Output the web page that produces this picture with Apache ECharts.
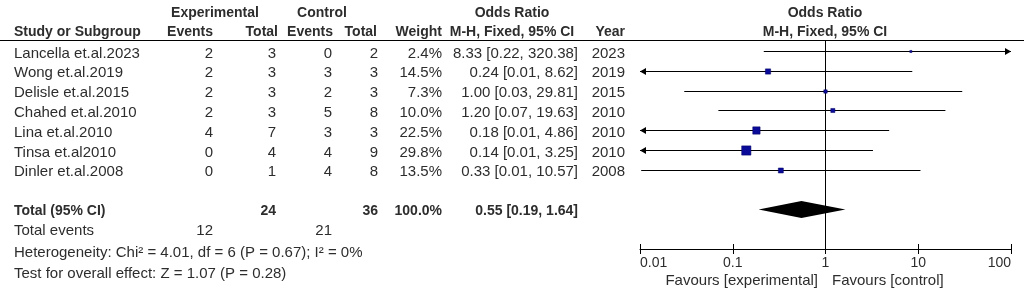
<!DOCTYPE html>
<html><head><meta charset="utf-8">
<script src="https://cdn.jsdelivr.net/npm/echarts@6/dist/echarts.min.js"></script>
<style>html,body{margin:0;padding:0;background:#fff}#c{width:1026px;height:291px}</style>
</head><body><div id="c"></div>
<script>
// ---------- data ----------
const studies    = ['Lancella et.al.2023','Wong et.al.2019','Delisle et.al.2015','Chahed et.al.2010','Lina et.al.2010','Tinsa et.al2010','Dinler et.al.2008'];
const expEvents  = [2, 2, 2, 2, 4, 0, 0];
const expTotal   = [3, 3, 3, 3, 7, 4, 1];
const ctrlEvents = [0, 3, 2, 5, 3, 4, 4];
const ctrlTotal  = [2, 3, 3, 8, 3, 9, 8];
const weights    = [2.4, 14.5, 7.3, 10.0, 22.5, 29.8, 13.5];
const orEst      = [8.33, 0.24, 1.00, 1.20, 0.18, 0.14, 0.33];
const ciLow      = [0.216, 0.0067, 0.03, 0.07, 0.0067, 0.006, 0.0103];
const ciHigh     = [320.38, 8.62, 29.81, 19.63, 4.86, 3.25, 10.57];
const years      = [2023, 2019, 2015, 2010, 2010, 2010, 2008];
const pooled     = [0.55, 0.19, 1.64];
const totalExpN = 24, totalCtrlN = 36, totalWeight = 100.0;
const totalExpEvents = 12, totalCtrlEvents = 21;
const heterogeneityText = 'Heterogeneity: Chi\u00B2 = 4.01, df = 6 (P = 0.67); I\u00B2 = 0%';
const overallText = 'Test for overall effect: Z = 1.07 (P = 0.28)';
const tickLabels = ['0.01', '0.1', '1', '10', '100'];
const favourLabels = ['Favours [experimental]', 'Favours [control]'];

// ---------- layout / style ----------
const FONT = '"Liberation Sans", Arial, sans-serif';
const TXT = '#2d2d2d';
const REG = 15, BOLD = 14;
const AX_MIN = 0.01, AX_MAX = 100;
const TOTAL_ROW = 8;
const fmtCI = (e, l, h) => e.toFixed(2) + ' [' + l.toFixed(2) + ', ' + h.toFixed(2) + ']';

function txt(x, y, s, align, bold) {
  return { type: 'text', x: x, y: y, silent: true,
    style: { text: s, x: 0, y: 0, align: align, verticalAlign: 'middle', fill: TXT,
      font: (bold ? 'bold ' : '') + (bold ? BOLD : REG) + 'px ' + FONT } };
}
function gtxt(x, y, s, align, bold, size) {
  return { type: 'text', x: x, y: y, silent: true,
    style: { text: s, textAlign: align, textVerticalAlign: 'middle', fill: TXT,
      font: (bold ? 'bold ' : '') + (size || (bold ? BOLD : REG)) + 'px ' + FONT } };
}

const chart = echarts.init(document.getElementById('c'), null, { renderer: 'canvas' });

const ciData = studies.map((s, i) => [orEst[i], ciLow[i], ciHigh[i], i, weights[i]]);
const tableData = studies.map((s, i) => [1, i]);

function renderCI(params, api) {
  const est = api.value(0), lo = api.value(1), hi = api.value(2), row = api.value(3), w = api.value(4);
  const y = Math.round(api.coord([1, row])[1]) + 0.5;
  const x1 = api.coord([Math.max(lo, AX_MIN), row])[0];
  const x2 = api.coord([Math.min(hi, AX_MAX), row])[0];
  const xe = api.coord([est, row])[0];
  const side = 1.5 + 0.26 * w;
  const ch = [{ type: 'line', shape: { x1: x1, y1: y, x2: x2, y2: y }, style: { stroke: '#000', lineWidth: 1 } }];
  if (lo < AX_MIN) ch.push({ type: 'polygon', shape: { points: [[x1, y], [x1 + 6, y - 3.5], [x1 + 6, y + 3.5]] }, style: { fill: '#000' } });
  if (hi > AX_MAX) ch.push({ type: 'polygon', shape: { points: [[x2, y], [x2 - 6, y - 3.5], [x2 - 6, y + 3.5]] }, style: { fill: '#000' } });
  ch.push({ type: 'rect', shape: { x: xe - side / 2, y: y - side / 2, width: side, height: side }, style: { fill: '#0b0b9a', stroke: '#000060', lineWidth: 0.5 } });
  return { type: 'group', children: ch };
}

function renderTable(params, api) {
  const i = params.dataIndex;
  const y = api.coord([1, api.value(1)])[1] + 2.5;
  return { type: 'group', children: [
    txt(14, y, studies[i], 'left'),
    txt(213, y, String(expEvents[i]), 'right'),
    txt(276, y, String(expTotal[i]), 'right'),
    txt(332, y, String(ctrlEvents[i]), 'right'),
    txt(378, y, String(ctrlTotal[i]), 'right'),
    txt(442, y, weights[i].toFixed(1) + '%', 'right'),
    txt(578, y, fmtCI(orEst[i], ciLow[i], ciHigh[i]), 'right'),
    txt(625, y, String(years[i]), 'right')
  ]};
}

function renderTotal(params, api) {
  const y = api.coord([1, TOTAL_ROW])[1] + 1.5;
  return { type: 'group', children: [
    txt(14, y, 'Total (95% CI)', 'left', true),
    txt(276, y, String(totalExpN), 'right', true),
    txt(378, y, String(totalCtrlN), 'right', true),
    txt(442, y, totalWeight.toFixed(1) + '%', 'right', true),
    txt(578, y, fmtCI(pooled[0], pooled[1], pooled[2]), 'right', true)
  ]};
}

function renderDiamond(params, api) {
  const row = api.value(3);
  const y = api.coord([1, row])[1];
  const xl = api.coord([api.value(1), row])[0];
  const xe = api.coord([api.value(0), row])[0];
  const xh = api.coord([api.value(2), row])[0];
  return { type: 'polygon', shape: { points: [[xl, y], [xe, y - 8.5], [xh, y], [xe, y + 8.5]] }, style: { fill: '#000' } };
}

const axisBase = {
  type: 'log', logBase: 10, min: AX_MIN, max: AX_MAX, position: 'bottom', gridIndex: 0,
  splitLine: { show: false }, minorTick: { show: false }
};

chart.setOption({
  animation: false,
  textStyle: { fontFamily: FONT },
  grid: { left: 640, right: 15, top: 41, bottom: 42, containLabel: false },
  xAxis: [
    Object.assign({}, axisBase, {
      axisLine: { onZero: false, lineStyle: { color: '#000', width: 1 } },
      axisTick: { show: true, length: 5, lineStyle: { color: '#000' } },
      axisLabel: { color: TXT, fontSize: 14, margin: 7, alignMinLabel: 'left', alignMaxLabel: 'right',
        formatter: v => tickLabels[Math.round(Math.log10(v)) + 2] }
    }),
    Object.assign({}, axisBase, {
      axisLine: { show: false, onZero: false },
      axisTick: { show: true, inside: true, length: 5, lineStyle: { color: '#000' } },
      axisLabel: { show: false }
    })
  ],
  yAxis: { type: 'value', inverse: true, min: -0.5, max: 10, show: false },
  series: [
    { type: 'line', data: [[1, -0.5], [1, 10]], symbol: 'none', silent: true,
      lineStyle: { color: '#000', width: 1 }, z: 1 },
    { type: 'custom', renderItem: renderCI, data: ciData, encode: { x: [0, 1, 2], y: 3 }, z: 3 },
    { type: 'custom', renderItem: renderDiamond, data: [[pooled[0], pooled[1], pooled[2], TOTAL_ROW]], encode: { x: [0, 1, 2], y: 3 }, z: 3 },
    { type: 'custom', renderItem: renderTable, data: tableData, encode: { x: 0, y: 1 }, z: 4, silent: true },
    { type: 'custom', renderItem: renderTotal, data: [[1, TOTAL_ROW]], encode: { x: 0, y: 1 }, z: 4, silent: true }
  ],
  graphic: [
    { type: 'line', shape: { x1: 0, y1: 40.5, x2: 1024, y2: 40.5 }, style: { stroke: '#000', lineWidth: 1 }, silent: true },
    gtxt(215, 13, 'Experimental', 'center', true),
    gtxt(322, 13, 'Control', 'center', true),
    gtxt(512, 13, 'Odds Ratio', 'center', true),
    gtxt(825, 13, 'Odds Ratio', 'center', true),
    gtxt(14, 32, 'Study or Subgroup', 'left', true),
    gtxt(213, 32, 'Events', 'right', true),
    gtxt(278, 32, 'Total', 'right', true),
    gtxt(333, 32, 'Events', 'right', true),
    gtxt(377, 32, 'Total', 'right', true),
    gtxt(442, 32, 'Weight', 'right', true),
    gtxt(512, 32, 'M-H, Fixed, 95% CI', 'center', true),
    gtxt(625, 32, 'Year', 'right', true),
    gtxt(825, 32, 'M-H, Fixed, 95% CI', 'center', true),
    gtxt(14, 231, 'Total events', 'left'),
    gtxt(213, 231, String(totalExpEvents), 'right'),
    gtxt(332, 231, String(totalCtrlEvents), 'right'),
    gtxt(14, 253, heterogeneityText, 'left'),
    gtxt(14, 274, overallText, 'left'),
    gtxt(818, 280.5, favourLabels[0], 'right'),
    gtxt(832, 280.5, favourLabels[1], 'left')
  ]
});
</script></body></html>
